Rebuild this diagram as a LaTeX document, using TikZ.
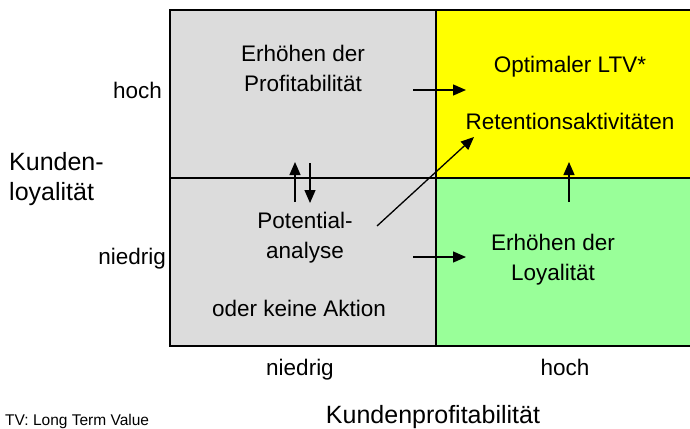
\documentclass[tikz,border=0pt]{standalone}
\usepackage{fontspec}
\setmainfont{Liberation Sans}
\usetikzlibrary{arrows.meta}
\definecolor{cellgray}{RGB}{220,220,220}
\definecolor{cellyellow}{RGB}{255,255,0}
\definecolor{cellgreen}{RGB}{153,255,153}
\begin{document}
\begin{tikzpicture}[x=1pt,y=-1pt,
  celltext/.style={font=\fontsize{22.5}{30}\selectfont, align=center, anchor=base, inner sep=0pt},
  axislabel/.style={font=\fontsize{22.5}{30}\selectfont, anchor=base, inner sep=0pt},
  axistitle/.style={font=\fontsize{25}{30}\selectfont, anchor=base, inner sep=0pt},
  gridline/.style={draw=black, line width=1.3pt},
  flow/.style={-{Triangle[length=13pt,width=11pt]}, line width=1.3pt}]
\useasboundingbox (0,0) rectangle (690,428);
\clip (0,0) rectangle (690,428);

% quadrant fills
\fill[cellgray]   (170,10)  rectangle (436,346);
\fill[cellyellow] (436,10)  rectangle (700,178);
\fill[cellgreen]  (436,178) rectangle (700,346);

% frame and dividing lines
\draw[gray!70, line width=0.8pt] (169,347) -- (169,9) -- (700,9);
\draw[gridline] (170,10) rectangle (700,346);
\draw[gridline] (436,10) -- (436,346);
\draw[gridline] (170,178) -- (700,178);

% quadrant texts (base = baseline of the last line)
\node[celltext] (profit) at (303,91)  {Erhöhen der\\Profitabilität};
\node[celltext] (ltv)    at (570,73)  {Optimaler LTV*};
\node[celltext] (ret)    at (570,129) {Retentionsaktivitäten};
\node[celltext] (pot)    at (305,258) {Potential-\\analyse};
\node[celltext] (none)   at (299,316) {oder keine Aktion};
\node[celltext] (loyal)  at (553,280) {Erhöhen der\\Loyalität};

% axis labels
\node[axislabel, anchor=base east] (yhigh) at (162,98)  {hoch};
\node[axislabel, anchor=base east] (ylow)  at (166,264) {niedrig};
\node[axislabel] (xlow)  at (300,375) {niedrig};
\node[axislabel] (xhigh) at (565,375) {hoch};
\node[axistitle, anchor=base west, align=left] (ytitle) at (9,200) {Kunden-\\loyalität};
\node[axistitle] (xtitle) at (433,423) {Kundenprofitabilität};
\node[font=\fontsize{15.5}{18}\selectfont, anchor=base west, inner sep=0pt] (note) at (5,425) {TV: Long Term Value};

% arrow end points
\coordinate (upL0) at (295,202);  \coordinate (upL1) at (295,162);
\coordinate (dnL0) at (310,163);  \coordinate (dnL1) at (310,203);
\coordinate (rtT0) at (413,90);   \coordinate (rtT1) at (466,90);
\coordinate (rtB0) at (413,257);  \coordinate (rtB1) at (466,257);
\coordinate (dg0)  at (377,226);  \coordinate (dg1)  at (474,137);
\coordinate (upR0) at (569,202);  \coordinate (upR1) at (569,162);

% arrows
\draw[flow] (upL0) -- (upL1);
\draw[flow] (dnL0) -- (dnL1);
\draw[flow] (rtT0) -- (rtT1);
\draw[flow] (rtB0) -- (rtB1);
\draw[flow] (dg0)  -- (dg1);
\draw[flow] (upR0) -- (upR1);
\end{tikzpicture}
\end{document}
